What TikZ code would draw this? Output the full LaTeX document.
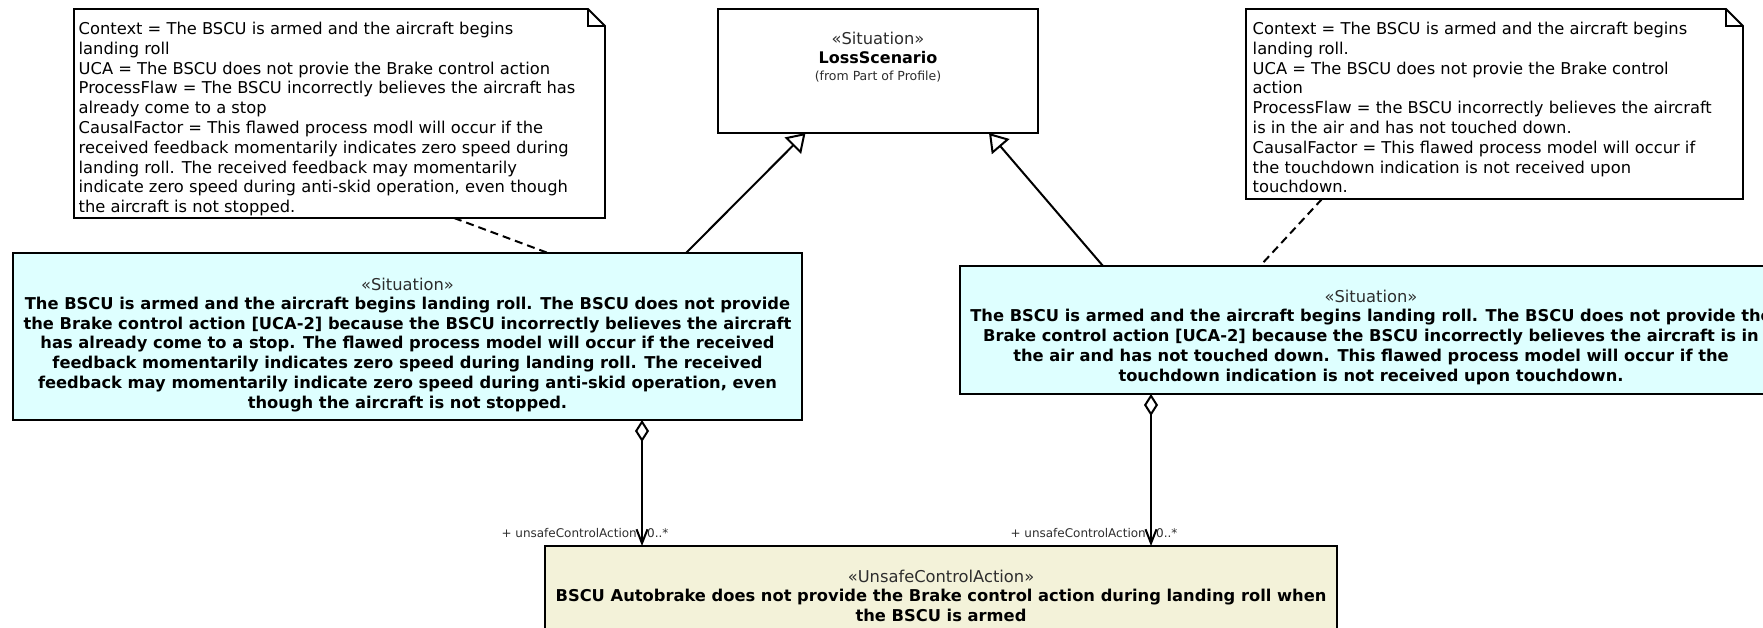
\documentclass[tikz,border=0pt]{standalone}
\usepackage{fontspec}
\setmainfont{DejaVu Sans}
\usetikzlibrary{arrows.meta}
\definecolor{sitfill}{RGB}{222,255,255}
\definecolor{ucafill}{RGB}{243,242,217}
\definecolor{stereo}{RGB}{45,45,45}
\tikzset{
  umlbox/.style={draw=black, line width=1.9pt, inner sep=0pt, outer sep=0pt, anchor=north west},
  notebox/.style={draw=none, fill=none, inner sep=0pt, outer sep=0pt, anchor=north west},
  noteline/.style={draw=black, fill=white, line width=1.9pt, line join=miter},
  notetext/.style={anchor=north west, align=left, inner sep=0pt, font=\fontsize{16.3pt}{19.8pt}\selectfont},
  stereotxt/.style={anchor=base, inner sep=0pt, text=stereo, font=\fontsize{16.3pt}{19.8pt}\selectfont},
  bodytxt/.style={anchor=north, align=center, inner sep=0pt, font=\fontsize{16.3pt}{19.8pt}\selectfont\bfseries},
  gen/.style={draw=black, line width=2pt, -{Triangle[open, length=18pt, width=23pt, fill=white]}},
  trace/.style={draw=black, line width=2pt, dash pattern=on 8pt off 5pt},
  agg/.style={draw=black, line width=2pt, {Diamond[open, length=22pt, width=14pt, fill=white]}-{Straight Barb[length=14pt, width=11pt]}},
  rolelbl/.style={inner sep=0pt, font=\fontsize{12pt}{14pt}\selectfont, text=stereo}
}
\begin{document}
\begin{tikzpicture}[x=1pt,y=-1pt]
\useasboundingbox (0,0) rectangle (1763,628);
\clip (0,0) rectangle (1763,628);

% ---- boxes ----
\node[umlbox, minimum width=320pt, minimum height=124pt] (loss) at (718,9) {};
\node[umlbox, fill=sitfill, minimum width=789pt, minimum height=167pt] (sit1) at (13,253) {};
\node[umlbox, fill=sitfill, minimum width=822pt, minimum height=128pt] (sit2) at (960,266) {};
\node[umlbox, fill=ucafill, minimum width=792pt, minimum height=160pt] (uca) at (545,546) {};
\node[notebox, minimum width=531pt, minimum height=209pt] (note1) at (74,9) {};
\node[notebox, minimum width=497pt, minimum height=190pt] (note2) at (1246,9) {};

% note outlines with folded corner
\path[noteline] (note1.north west) -- ([xshift=-17pt]note1.north east) -- ([yshift=-17pt]note1.north east) -- (note1.south east) -- (note1.south west) -- cycle;
\draw[line width=1.9pt] ([xshift=-17pt]note1.north east) -- ([xshift=-17pt,yshift=-17pt]note1.north east) -- ([yshift=-17pt]note1.north east);
\path[noteline] (note2.north west) -- ([xshift=-17pt]note2.north east) -- ([yshift=-17pt]note2.north east) -- (note2.south east) -- (note2.south west) -- cycle;
\draw[line width=1.9pt] ([xshift=-17pt]note2.north east) -- ([xshift=-17pt,yshift=-17pt]note2.north east) -- ([yshift=-17pt]note2.north east);

% ---- texts ----
\node[stereotxt] (lossst) at (878,44.9) {«Situation»};
\node[anchor=base, inner sep=0pt, font=\fontsize{16pt}{19pt}\selectfont\bfseries] (lossname) at (878,64) {LossScenario};
\node[anchor=base, inner sep=0pt, text=stereo, font=\fontsize{12.5pt}{14pt}\selectfont] (lossfrom) at (878,81) {(from Part of Profile)};

\node[notetext] (n1t) at (78.5,22) {Context = The BSCU is armed and the aircraft begins\\
landing roll\\
UCA = The BSCU does not provie the Brake control action\\
ProcessFlaw = The BSCU incorrectly believes the aircraft has\\
already come to a stop\\
CausalFactor = This flawed process modl will occur if the\\
received feedback momentarily indicates zero speed during\\
landing roll. The received feedback may momentarily\\
indicate zero speed during anti-skid operation, even though\\
the aircraft is not stopped.};

\node[notetext] (n2t) at (1252.5,22) {Context = The BSCU is armed and the aircraft begins\\
landing roll.\\
UCA = The BSCU does not provie the Brake control\\
action\\
ProcessFlaw = the BSCU incorrectly believes the aircraft\\
is in the air and has not touched down.\\
CausalFactor = This flawed process model will occur if\\
the touchdown indication is not received upon\\
touchdown.};

\node[stereotxt] (s1st) at (407.5,290) {«Situation»};
\node[bodytxt] (s1b) at (407.5,296.7) {The BSCU is armed and the aircraft begins landing roll. The BSCU does not provide\\
the Brake control action [UCA-2] because the BSCU incorrectly believes the aircraft\\
has already come to a stop. The flawed process model will occur if the received\\
feedback momentarily indicates zero speed during landing roll. The received\\
feedback may momentarily indicate zero speed during anti-skid operation, even\\
though the aircraft is not stopped.};

\node[stereotxt] (s2st) at (1371,302.5) {«Situation»};
\node[bodytxt] (s2b) at (1371,309.1) {The BSCU is armed and the aircraft begins landing roll. The BSCU does not provide the\\
Brake control action [UCA-2] because the BSCU incorrectly believes the aircraft is in\\
the air and has not touched down. This flawed process model will occur if the\\
touchdown indication is not received upon touchdown.};

\node[stereotxt] (ucast) at (941,582.5) {«UnsafeControlAction»};
\node[bodytxt] (ucab) at (941,589.1) {BSCU Autobrake does not provide the Brake control action during landing roll when\\
the BSCU is armed};

% ---- connectors ----
\coordinate (g1a) at (686,0);
\coordinate (g1b) at (805.5,0);
\coordinate (g2a) at (1103,0);
\coordinate (g2b) at (989,0);
\coordinate (d1a) at (454,0);
\coordinate (d1b) at (548,0);
\coordinate (d2a) at (1322,0);
\coordinate (d2b) at (1260,0);
\coordinate (a1) at (642,0);
\coordinate (a2) at (1151,0);

\draw[gen] (sit1.north -| g1a) -- (loss.south -| g1b);
\draw[gen] (sit2.north -| g2a) -- (loss.south -| g2b);
\draw[trace] (note1.south -| d1a) -- (sit1.north -| d1b);
\draw[trace] (note2.south -| d2a) -- (sit2.north -| d2b);
\draw[agg] (sit1.south -| a1) -- (uca.north -| a1);
\draw[agg] (sit2.south -| a2) -- (uca.north -| a2);

\node[rolelbl, anchor=base east] (r1) at ([xshift=-5pt,yshift=9pt]uca.north -| a1) {+ unsafeControlAction};
\node[rolelbl, anchor=base west] (m1) at ([xshift=5pt,yshift=9pt]uca.north -| a1) {0..*};
\node[rolelbl, anchor=base east] (r2) at ([xshift=-5pt,yshift=9pt]uca.north -| a2) {+ unsafeControlAction};
\node[rolelbl, anchor=base west] (m2) at ([xshift=5pt,yshift=9pt]uca.north -| a2) {0..*};
\end{tikzpicture}
\end{document}
